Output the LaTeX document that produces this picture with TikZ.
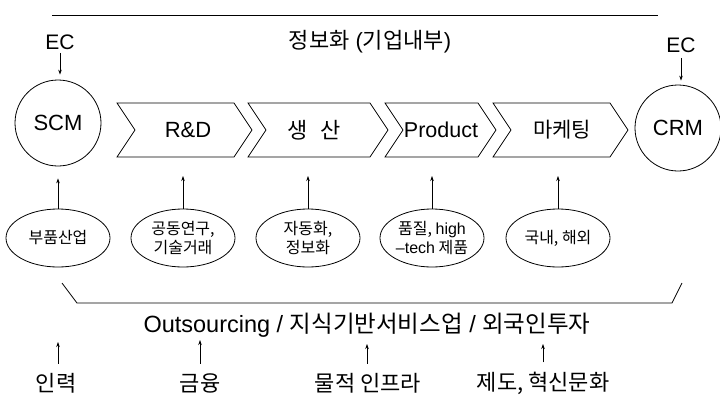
\documentclass[tikz,border=0pt]{standalone}
\usepackage{fontspec}
\setmainfont{Liberation Sans}
\newfontfamily\kr{Noto Sans CJK KR}
\usetikzlibrary{arrows.meta,shapes.geometric}
\begin{document}
\begin{tikzpicture}[x=1pt,y=-1pt,line width=0.8pt,
  arr/.style={-{Stealth[length=5pt,width=3.5pt]},line width=0.6pt},
  circ/.style={draw,circle,minimum size=86pt,inner sep=0pt,font=\fontsize{22}{26}\selectfont},
  ell/.style={draw,ellipse,minimum width=104pt,minimum height=58pt,inner sep=0pt,align=center,font=\kr\fontsize{16}{18.5}\selectfont},
  chev/.style={draw,line width=0.8pt},
  lbl/.style={inner sep=0pt,font=\fontsize{21}{24}\selectfont},
  ctext/.style={inner sep=0pt,font=\fontsize{22}{26}\selectfont},
  ktext/.style={inner sep=0pt,font=\kr\fontsize{21}{24}\selectfont},
  btext/.style={inner sep=0pt,font=\kr\fontsize{22}{26}\selectfont}]
\useasboundingbox (0,0) rectangle (720,399);
% top line
\coordinate (tl) at (52,15);
\coordinate (tr) at (658,15);
\draw[line width=0.9pt] (tl) -- (tr);
\node[lbl,font=\fontsize{22}{26}\selectfont] (head) at (370,42) {{\kr 정보화} ({\kr 기업내부})};
% EC
\node[lbl] (ecl) at (60,42) {EC};
\node[lbl] (ecr) at (681,45) {EC};
\node[circ] (scm) at (58,123) {SCM};
\node[circ] (crm) at (678,128) {CRM};
\draw[arr,shorten <=3pt,shorten >=5pt] (ecl) -- (ecl |- scm.north);
\draw[arr,shorten <=5pt,shorten >=4pt] (ecr) -- (ecr |- crm.north);
% chevrons
\draw[chev] (117,103) -- (234,103) -- (252,130) -- (234,157) -- (117,157) -- (135,130) -- cycle;
\draw[chev] (248,103) -- (370,103) -- (388,130) -- (370,157) -- (248,157) -- (266,130) -- cycle;
\draw[chev] (385,103) -- (478,103) -- (496,130) -- (478,157) -- (385,157) -- (403,130) -- cycle;
\draw[chev] (493,103) -- (610,103) -- (628,130) -- (610,157) -- (493,157) -- (511,130) -- cycle;
\node[ctext] (c1) at (188,130) {R\&D};
\node[ktext,font=\kr\fontsize{22}{26}\selectfont] (c2) at (314,130) {생\hspace{0.55em}산};
\node[ctext,font=\fontsize{21.5}{26}\selectfont] (c3) at (441,130) {Product};
\node[ktext] (c4) at (562,130) {마케팅};
\coordinate (c1b) at (183,176);
\coordinate (c2b) at (308,176);
\coordinate (c3b) at (432,176);
\coordinate (c4b) at (558,176);
% ellipses
\node[ell] (e1) at (58,238) {부품산업};
\node[ell] (e2) at (183,238) {공동연구,\\기술거래};
\node[ell] (e3) at (308,238) {자동화,\\정보화};
\node[ell] (e4) at (432,238) {품질, {\fontspec{Liberation Sans}high}\\{\fontspec{Liberation Sans}\textendash tech} 제품};
\node[ell] (e5) at (558,238) {국내, 해외};
\draw[arr,shorten >=12pt] (e1) -- (scm);
\draw[arr] (e2) -- (c1b);
\draw[arr] (e3) -- (c2b);
\draw[arr] (e4) -- (c3b);
\draw[arr] (e5) -- (c4b);
% bracket
\draw[line width=0.8pt] (62,283) -- (77,303) -- (672,303) -- (682,283);
\node[lbl,font=\fontsize{23.5}{28}\selectfont] (out) at (367,325) {Outsourcing / {\kr 지식기반서비스업} / {\kr 외국인투자}};
% bottom
\node[btext] (b1) at (56,383) {인력};
\node[btext] (b2) at (200,383) {금융};
\node[btext] (b3) at (368,383) {물적 인프라};
\node[btext] (b4) at (543,383) {제도, 혁신문화};
\coordinate (o1) at (58,342);
\coordinate (o2) at (200,340);
\coordinate (o3) at (367,344);
\coordinate (o4) at (543,344);
\draw[arr,shorten <=9pt] (b1.north -| o1) -- (o1);
\draw[arr,shorten <=9pt] (b2.north -| o2) -- (o2);
\draw[arr,shorten <=9pt] (b3.north -| o3) -- (o3);
\draw[arr,shorten <=9pt] (b4.north -| o4) -- (o4);
\end{tikzpicture}
\end{document}
